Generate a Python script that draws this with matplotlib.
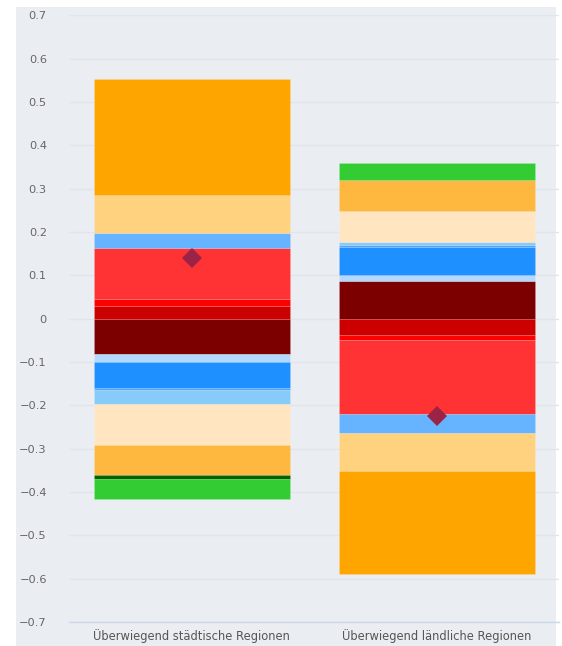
import matplotlib.pyplot as plt
from matplotlib.patches import Rectangle
from matplotlib.ticker import FuncFormatter, MultipleLocator
import numpy as np

# Kategorien
regionen = ['Überwiegend städtische Regionen', 'Überwiegend ländliche Regionen']

# Reihen (Wert pro Kategorie, Vorzeichen = Richtung) und Farben
reihen = [
    ([-0.082,  0.088], '#7d0000'),
    ([-0.017,  0.012], '#b3d9ff'),
    ([-0.060,  0.066], '#1e90ff'),
    ([-0.005,  0.005], '#4da6ff'),
    ([-0.034,  0.006], '#87cbfa'),
    ([-0.093,  0.072], '#ffe5c0'),
    ([-0.069,  0.070], '#ffb83f'),
    ([-0.009,  0.000], '#006400'),
    ([-0.048,  0.041], '#33cc33'),
    ([ 0.029, -0.038], '#cc0000'),
    ([ 0.017, -0.012], '#ff0000'),
    ([ 0.118, -0.171], '#ff3333'),
    ([ 0.034, -0.042], '#66b3ff'),
    ([ 0.087, -0.088], '#ffd280'),
    ([ 0.269, -0.239], '#ffa500'),
]

# Saldo (Raute)
saldo = [0.140, -0.225]

fig = plt.figure(figsize=(5.62, 6.46), dpi=100, facecolor='white')
# grauer Hintergrund
fig.patches.append(Rectangle((16/562, 0), 540/562, 1 - 7/646, transform=fig.transFigure,
                             facecolor='#eaeef3', edgecolor='none', zorder=-10))

ax = fig.add_axes([69/562, 1 - 622/646, 490/562, (622 - 15.3)/646])
ax.set_facecolor('none')
ax.set_zorder(1)

x = np.arange(len(regionen))
pos = np.zeros(len(regionen))
neg = np.zeros(len(regionen))
for werte, farbe in reihen:
    werte = np.array(werte)
    unten = np.where(werte >= 0, pos, neg)
    ax.bar(x, werte, bottom=unten, width=0.8, color=farbe,
           edgecolor=(1, 1, 1, 0.15), linewidth=0.5, zorder=2)
    pos = pos + np.where(werte > 0, werte, 0)
    neg = neg + np.where(werte < 0, werte, 0)

ax.plot(x, saldo, linestyle='none', marker='D', markersize=10,
        color='#9a2346', markeredgewidth=0, zorder=3)

ax.set_xlim(-0.5, 1.5)
ax.set_ylim(-0.7, 0.7)
ax.yaxis.set_major_locator(MultipleLocator(0.1))
ax.yaxis.set_major_formatter(FuncFormatter(lambda v, p: '{:g}'.format(round(v, 2)).replace('-', '\u2212')))
ax.set_xticks(x)
ax.set_xticklabels(regionen)

ax.grid(axis='y', color='#e1e5eb', linewidth=1, zorder=1)
for s in ['top', 'right', 'left']:
    ax.spines[s].set_visible(False)
ax.spines['bottom'].set_color('#ccd6eb')
ax.spines['bottom'].set_linewidth(1)
ax.spines['bottom'].set_zorder(4)

ax.tick_params(axis='y', length=0, pad=16, labelsize=8.2, labelcolor='#666666')
ax.tick_params(axis='x', length=0, pad=5, labelsize=8.3, labelcolor='#555555')

plt.savefig('out.png', dpi=100, facecolor='white')
